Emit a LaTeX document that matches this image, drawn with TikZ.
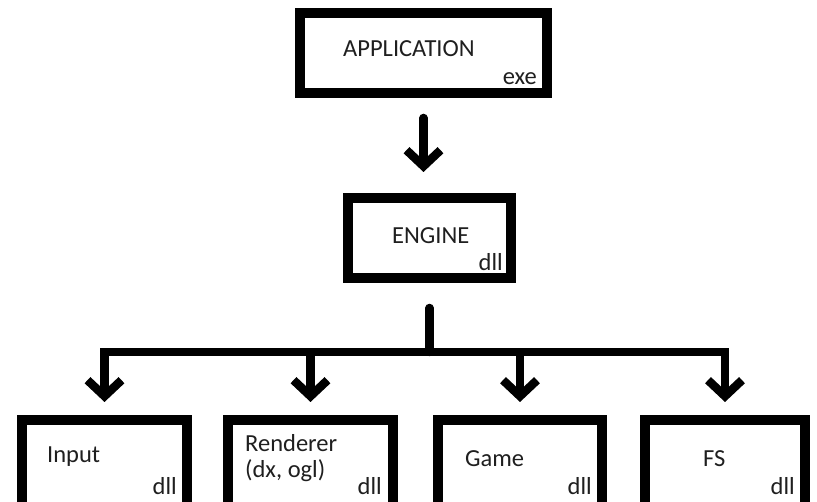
\documentclass[tikz,border=0pt]{standalone}
\usepackage{fontspec}
\setmainfont{Carlito}
\usetikzlibrary{arrows.meta}
\begin{document}
\begin{tikzpicture}[x=1pt,y=-1pt,
  box/.style={draw=black, line width=10pt, inner sep=0pt, minimum height=80pt},
  lowbox/.style={box, minimum height=110pt, minimum width=165pt},
  label/.style={inner sep=0pt, text=black!88, font=\fontsize{24.5}{28}\selectfont},
  wire/.style={draw=black, line width=8.5pt, line cap=round},
  link/.style={wire, -{Straight Barb[sharp, length=16pt, width=34pt]}}
]
\clip (0,0) rectangle (817,502);
\fill[white] (0,0) rectangle (817,502);

% modules
\node[box, minimum width=247pt] (app) at (423.5,53) {};
\node[box, minimum width=163pt] (eng) at (429.5,238) {};
\node[lowbox] (inp) at (104.5,475) {};
\node[lowbox] (ren) at (310.5,475) {};
\node[lowbox, minimum width=164pt] (game) at (520,475) {};
\node[lowbox, minimum width=160pt] (fs) at (725,475) {};

% names and binary types
\node[label, anchor=base west] (tapp) at (343,57) {APPLICATION};
\node[label, anchor=base east] (xapp) at (537,85) {exe};
\node[label, anchor=base west] (teng) at (392,244) {ENGINE};
\node[label, anchor=base east] (xeng) at (503,271) {dll};
\node[label, anchor=base west] (tinp) at (47,463) {Input};
\node[label, anchor=base east] (xinp) at (177,495) {dll};
\node[label, anchor=base west] (tren) at (245,452) {Renderer};
\node[label, anchor=base west] (tren2) at (245,478) {(dx, ogl)};
\node[label, anchor=base east] (xren) at (382,495) {dll};
\node[label, anchor=base west] (tgame) at (465,467) {Game};
\node[label, anchor=base east] (xgame) at (592,495) {dll};
\node[label, anchor=base west] (tfs) at (703,467) {FS};
\node[label, anchor=base east] (xfs) at (795,495) {dll};

% application depends on the engine
\draw[link] ([yshift=-20pt]app.south) -- ([yshift=21pt]app.south |- eng.north);

% engine fans out to the subsystems
\coordinate (hub) at ([yshift=-69pt]eng.south);
\draw[wire] ([yshift=-25pt]eng.south) -- (hub);
\foreach \m in {inp, ren, game, fs}
  \draw[link, line cap=butt] (hub) -| ([yshift=13pt]\m.north);
\end{tikzpicture}
\end{document}
